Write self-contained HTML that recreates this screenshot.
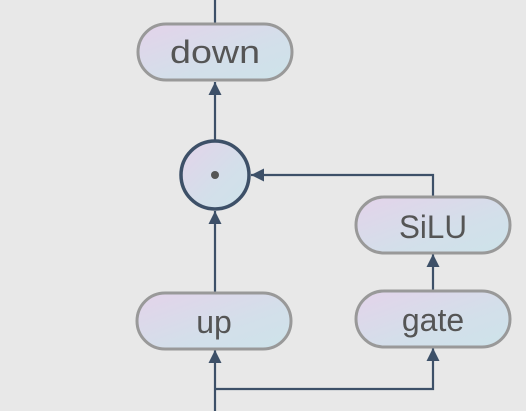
<!DOCTYPE html>
<html><head><style>html,body{margin:0;padding:0;background:#e8e8e8;}svg{display:block}</style></head>
<body>
<svg width="526" height="411" viewBox="0 0 526 411" xmlns="http://www.w3.org/2000/svg">
<defs>
<linearGradient id="g" x1="0" y1="0" x2="1" y2="1">
<stop offset="0" stop-color="#e4d3ea"/><stop offset="0.6" stop-color="#d3dfea"/><stop offset="1" stop-color="#cde3ea"/>
</linearGradient>
<marker id="a" viewBox="0 0 10 10" refX="10" refY="5" markerWidth="14" markerHeight="13" markerUnits="userSpaceOnUse" orient="auto">
<path d="M0,0 L10,5 L0,10 z" fill="#3d5068"/>
</marker>
</defs>
<rect width="526" height="411" fill="#e8e8e8"/>
<g stroke="#3d5068" stroke-width="2.2" fill="none">
<line x1="215" y1="0" x2="215" y2="24"/>
<line x1="215" y1="140" x2="215" y2="82" marker-end="url(#a)"/>
<line x1="215" y1="292" x2="215" y2="211" marker-end="url(#a)"/>
<polyline points="433,197 433,175 251,175" marker-end="url(#a)"/>
<line x1="433" y1="290" x2="433" y2="254" marker-end="url(#a)"/>
<line x1="215" y1="411" x2="215" y2="350" marker-end="url(#a)"/>
<polyline points="215,389 433,389 433,348" marker-end="url(#a)"/>
</g>
<g stroke="#999" stroke-width="3" fill="url(#g)">
<rect x="138" y="24" width="154" height="56" rx="28"/>
<rect x="137" y="293" width="154" height="56" rx="28"/>
<rect x="356" y="291" width="154" height="56" rx="28"/>
<rect x="356" y="197" width="154" height="56" rx="28"/>
</g>
<circle cx="215" cy="175" r="34" fill="url(#g)" stroke="#3d5068" stroke-width="3.5"/>
<circle cx="215" cy="175" r="4" fill="#555"/>
<g font-family="Liberation Sans, sans-serif" font-size="32" fill="#555" text-anchor="middle">
<text x="215" y="63" textLength="90" lengthAdjust="spacingAndGlyphs">down</text>
<text x="214" y="333">up</text>
<text x="433" y="331">gate</text>
<text x="433" y="238" textLength="68" lengthAdjust="spacingAndGlyphs">SiLU</text>
</g>
</svg>
</body></html>
